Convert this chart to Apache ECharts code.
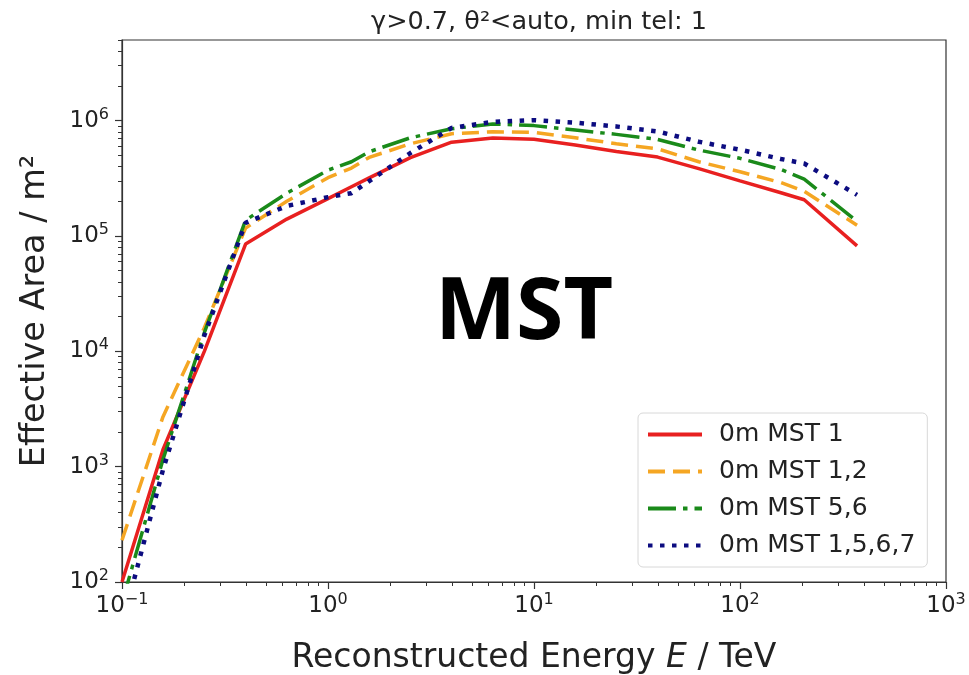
<!DOCTYPE html>
<html>
<head>
<meta charset="utf-8">
<script src="https://cdn.jsdelivr.net/npm/echarts@6/dist/echarts.min.js"></script>
<style>
html,body{margin:0;padding:0;background:#fff;}
#chart{width:969px;height:675px;}
</style>
</head>
<body>
<div id="chart"></div>
<script>
// Energy bins (TeV)
var energy = [0.1, 0.158, 0.251, 0.398, 0.631, 1.0, 1.3, 1.585, 2.512, 3.981, 6.31, 10, 15.85, 25.12, 39.81, 63.1, 100, 158, 205, 370];
// Effective area (m^2)
var mst1    = [100, 1400, 1.0e4, 8.5e4, 1.4e5, 2.11e5, 2.67e5, 3.19e5, 4.78e5, 6.5e5, 7.08e5, 6.9e5, 6.15e5, 5.4e5, 4.83e5, 3.84e5, 3.0e5, 2.37e5, 2.06e5, 8.2e4];
var mst12   = [230, 2700, 1.6e4, 1.17e5, 2.0e5, 3.2e5, 3.88e5, 4.8e5, 6.3e5, 7.7e5, 8.0e5, 7.9e5, 7.1e5, 6.3e5, 5.7e5, 4.4e5, 3.6e5, 2.9e5, 2.44e5, 1.24e5];
var mst56   = [66, 1150, 1.45e4, 1.37e5, 2.35e5, 3.72e5, 4.4e5, 5.37e5, 7.1e5, 8.5e5, 9.35e5, 9.05e5, 8.3e5, 7.6e5, 6.87e5, 5.56e5, 4.71e5, 3.77e5, 3.11e5, 1.34e5];
var mst1567 = [42, 936, 1.37e4, 1.3e5, 1.82e5, 2.17e5, 2.35e5, 2.99e5, 5.24e5, 8.65e5, 9.75e5, 1.01e6, 9.6e5, 8.9e5, 8.05e5, 6.56e5, 5.6e5, 4.65e5, 4.25e5, 2.27e5];
var seriesNames = ['0m MST 1', '0m MST 1,2', '0m MST 5,6', '0m MST 1,5,6,7'];
// Tick exponents
var xTickExps = [-1, 0, 1, 2, 3];
var yTickExps = [2, 3, 4, 5, 6];
var titleText = 'γ>0.7, θ²<auto, min tel: 1';

function pow10(e){ return Math.pow(10, e); }
var xTicks = xTickExps.map(pow10);
var yTicks = yTickExps.map(pow10);
function minorTicks(lo, hi){
  var out = [];
  for (var e = lo; e < hi; e++) for (var k = 2; k <= 9; k++) out.push(k * Math.pow(10, e));
  return out;
}
var xMinor = minorTicks(-1, 3);
var yMinor = minorTicks(2, 7).filter(function(v){ return v <= 5e6; });

function supFmt(v){
  var e = Math.round(Math.log10(v));
  var s = e < 0 ? '\u2212' + (-e) : '' + e;
  return '{b|10}{s|' + s + '}';
}
var richTick = {
  b: {fontSize: 23, color: '#222', fontFamily: 'DejaVu Sans'},
  s: {fontSize: 16, color: '#222', fontFamily: 'DejaVu Sans', padding: [0, 0, 12, 0]}
};
function pairs(vals){ return energy.map(function(x, i){ return [x, vals[i]]; }); }

var chart = echarts.init(document.getElementById('chart'), null, {renderer: 'canvas'});
var gridPos = {left: 122, right: 23, top: 40, bottom: 93};
var option = {
  backgroundColor: '#fff',
  animation: false,
  title: {
    text: titleText, left: 534, top: 4, textAlign: 'center',
    textStyle: {fontSize: 25.5, fontWeight: 'normal', color: '#222', fontFamily: 'DejaVu Sans'}
  },
  grid: Object.assign({show: true, borderColor: '#333', borderWidth: 1.2, containLabel: false, outerBoundsMode: 'none'}, gridPos),
  legend: {
    orient: 'vertical', left: 638, top: 413,
    itemWidth: 54, itemHeight: 16, itemGap: 12,
    backgroundColor: '#fff', borderColor: '#d8d8d8', borderWidth: 1, borderRadius: 5,
    padding: [9, 12, 9, 8],
    itemStyle: {opacity: 0},
    lineStyle: {width: 4},
    textStyle: {fontSize: 25, color: '#222', fontFamily: 'DejaVu Sans', padding: [0, 0, 0, 12]},
    data: seriesNames
  },
  xAxis: [{
    type: 'log', logBase: 10, min: 0.1, max: 1000,
    name: '{n|Reconstructed Energy }{i|E}{n| / TeV}',
    nameLocation: 'middle', nameGap: 60,
    nameTextStyle: {rich: {
      n: {fontSize: 33, color: '#222', fontFamily: 'DejaVu Sans'},
      i: {fontSize: 33, color: '#222', fontFamily: 'DejaVu Sans', fontStyle: 'italic'}
    }},
    axisLine: {show: true, lineStyle: {color: '#333', width: 1.2}},
    axisTick: {show: true, inside: false, length: 7, customValues: xTicks, lineStyle: {color: '#333', width: 1.2}},
    axisLabel: {show: true, customValues: xTicks, formatter: supFmt, rich: richTick, margin: 10},
    splitLine: {show: false}
  }, {
    type: 'log', logBase: 10, min: 0.1, max: 1000, position: 'bottom',
    axisLine: {show: false},
    axisTick: {show: true, inside: false, length: 4, customValues: xMinor, lineStyle: {color: '#333', width: 1}},
    axisLabel: {show: false},
    splitLine: {show: false}
  }],
  yAxis: [{
    type: 'log', logBase: 10, min: 100, max: 5e6,
    name: 'Effective Area / m²', nameLocation: 'middle', nameGap: 70, nameRotate: 90,
    nameTextStyle: {fontSize: 33.5, color: '#222', fontFamily: 'DejaVu Sans'},
    axisLine: {show: true, lineStyle: {color: '#333', width: 1.2}},
    axisTick: {show: true, inside: false, length: 7, customValues: yTicks, lineStyle: {color: '#333', width: 1.2}},
    axisLabel: {show: true, customValues: yTicks, formatter: supFmt, rich: richTick, margin: 13},
    splitLine: {show: false}
  }, {
    type: 'log', logBase: 10, min: 100, max: 5e6, position: 'left',
    axisLine: {show: false},
    axisTick: {show: true, inside: false, length: 4, customValues: yMinor, lineStyle: {color: '#333', width: 1}},
    axisLabel: {show: false},
    splitLine: {show: false}
  }],
  graphic: [{
    type: 'text', left: 435, top: 271, z: 10,
    style: {text: 'MST', fontSize: 86, fontWeight: 'bold', fill: '#000', fontFamily: 'Noto Sans'}
  }],
  series: [
    {name: seriesNames[0], type: 'line', data: pairs(mst1), symbol: 'none', showSymbol: false, clip: true,
     lineStyle: {color: '#e82020', width: 3.5, type: 'solid'}, itemStyle: {color: '#e82020'}},
    {name: seriesNames[1], type: 'line', data: pairs(mst12), symbol: 'none', showSymbol: false, clip: true,
     lineStyle: {color: '#f5a623', width: 3.5, type: [17, 8]}, itemStyle: {color: '#f5a623'}},
    {name: seriesNames[2], type: 'line', data: pairs(mst56), symbol: 'none', showSymbol: false, clip: true,
     lineStyle: {color: '#1a8a1a', width: 3.5, type: [28, 7, 4.5, 7]}, itemStyle: {color: '#1a8a1a'}},
    {name: seriesNames[3], type: 'line', data: pairs(mst1567), symbol: 'none', showSymbol: false, clip: true,
     lineStyle: {color: '#0c0c80', width: 4.5, type: [4.5, 7.5]}, itemStyle: {color: '#0c0c80'}}
  ]
};
chart.setOption(option);
</script>
</body>
</html>
